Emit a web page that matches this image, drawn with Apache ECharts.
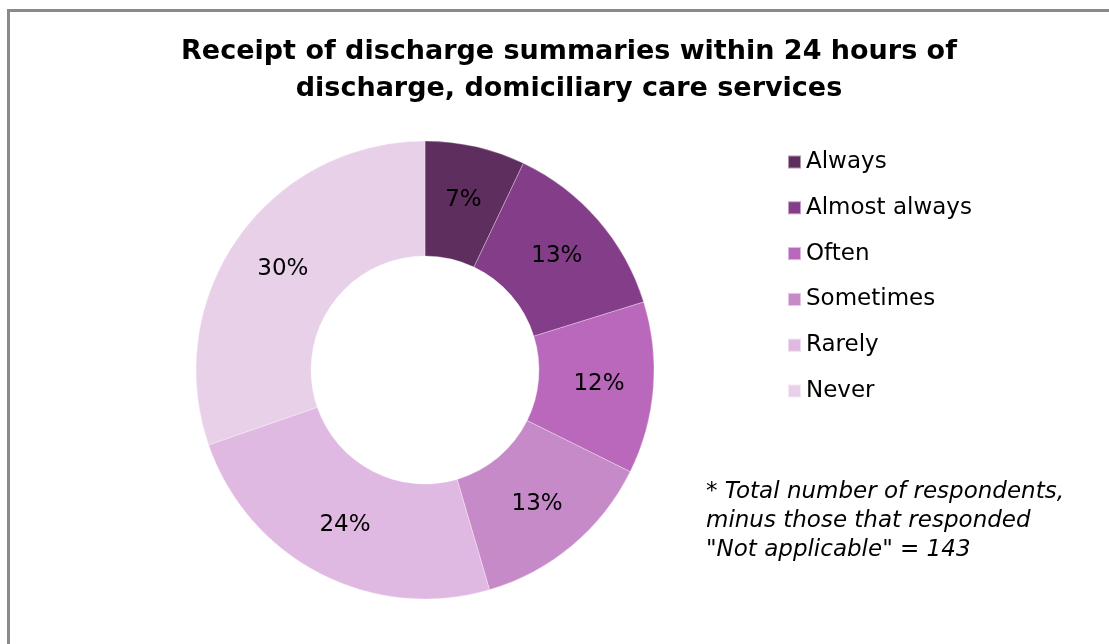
<!DOCTYPE html>
<html>
<head>
<meta charset="utf-8">
<script src="https://cdn.jsdelivr.net/npm/echarts@6/dist/echarts.min.js"></script>
<style>html,body{margin:0;padding:0;background:#fff}#c{width:1109px;height:644px}</style>
</head>
<body>
<div id="c"></div>
<script>
const titleText = 'Receipt of discharge summaries within 24 hours of\ndischarge, domiciliary care services';
const categories = ['Always', 'Almost always', 'Often', 'Sometimes', 'Rarely', 'Never'];
const percentValues = [7, 13, 12, 13, 24, 30];
const colors = ['#5E2E5E', '#843D88', '#B968BB', '#C78AC9', '#DFB9E1', '#E8D0E8'];
const footnote = '* Total number of respondents,\nminus those that responded\n"Not applicable" = 143';

const FONT = '"DejaVu Sans", "Liberation Sans", sans-serif';
const chart = echarts.init(document.getElementById('c'));
chart.setOption({
  animation: false,
  color: colors,
  title: {
    text: titleText,
    left: 564, top: 28, textAlign: 'center',
    textStyle: {fontFamily: FONT, fontWeight: 'bold', fontSize: 27, lineHeight: 37, color: '#000'}
  },
  legend: {
    orient: 'vertical', left: 787, top: 150, padding: 0,
    itemWidth: 13, itemHeight: 13, itemGap: 21.8, icon: 'rect',
    textStyle: {fontFamily: FONT, fontSize: 23, lineHeight: 24, color: '#000'},
    data: categories
  },
  graphic: [
    {type: 'rect', shape: {x: 8.5, y: 10.5, width: 1300, height: 800}, style: {fill: 'none', stroke: '#8a8a8a', lineWidth: 3}, silent: true},
    {type: 'text', left: 706, top: 478, style: {text: footnote, font: 'italic 23px "DejaVu Sans"', lineHeight: 29, fill: '#000'}}
  ],
  series: [{
    type: 'pie',
    center: [425, 370],
    radius: [114, 229],
    startAngle: 90,
    clockwise: true,
    avoidLabelOverlap: false,
    itemStyle: {borderColor: 'rgba(255,255,255,0.5)', borderWidth: 0.6},
    label: {
      show: true, position: 'inside', formatter: '{c}%',
      fontFamily: FONT, fontSize: 23, color: '#000'
    },
    labelLine: {show: false},
    emphasis: {disabled: true},
    data: categories.map((n, i) => ({name: n, value: percentValues[i]}))
  }]
});
</script>
</body>
</html>
